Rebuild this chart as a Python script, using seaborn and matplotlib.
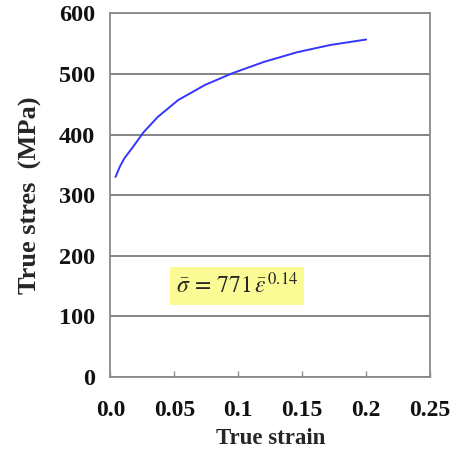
import numpy as np
import pandas as pd
import matplotlib
matplotlib.use("Agg")
import matplotlib.pyplot as plt
import seaborn as sns

sns.set_theme(style="white")
plt.rcParams['font.family'] = ['Liberation Serif', 'DejaVu Serif']
plt.rcParams['mathtext.fontset'] = 'stix'

# values
strain = [0.004, 0.0074, 0.011, 0.0178, 0.026, 0.037, 0.053, 0.074, 0.095, 0.120, 0.146, 0.172, 0.200]
stress = [330, 347, 361, 380, 404, 429, 457, 482, 501, 520, 536, 548, 557]
xticks = [0.0, 0.05, 0.1, 0.15, 0.2, 0.25]
xtick_labels = ["0.0", "0.05", "0.1", "0.15", "0.2", "0.25"]
yticks = [0, 100, 200, 300, 400, 500, 600]
equation = r'$\bar{\sigma}\,=\,771\,\bar{\varepsilon}^{\,0.14}$'

df = pd.DataFrame({"strain": strain, "stress": stress})

fig = plt.figure(figsize=(4.6, 4.5), dpi=100)
ax = fig.add_axes([0.240, 0.163, 0.695, 0.807])

sns.lineplot(data=df, x="strain", y="stress", ax=ax, color="#3535ff", linewidth=1.4)

ax.set_xlim(0, 0.25)
ax.set_ylim(0, 600)
ax.set_xticks(xticks)
ax.set_xticklabels(xtick_labels)
ax.set_yticks(yticks)
ax.yaxis.grid(True, color="#7a7a7a", linewidth=1.3)
ax.xaxis.grid(False)
for s in ax.spines.values():
    s.set_color("#8a8a8a")
    s.set_linewidth(1.3)

ax.tick_params(axis="x", direction="in", length=4, width=1, color="#8a8a8a",
               bottom=True, pad=17, labelsize=17)
ax.tick_params(axis="y", length=0, pad=11, labelsize=17.5)
for lab in ax.get_xticklabels() + ax.get_yticklabels():
    lab.set_fontweight("bold")
    lab.set_color("#111111")

ax.set_xlabel("True strain", fontsize=16.5, fontweight="bold", labelpad=5)
ax.set_ylabel("True stres  (MPa)", fontsize=19, fontweight="bold", labelpad=12)

ax.text(0.099, 150, equation, fontsize=17, ha="center", va="center",
        bbox=dict(boxstyle="square,pad=0.25", facecolor="#fbfb96", edgecolor="none"))

fig.savefig("out.png", dpi=100)
